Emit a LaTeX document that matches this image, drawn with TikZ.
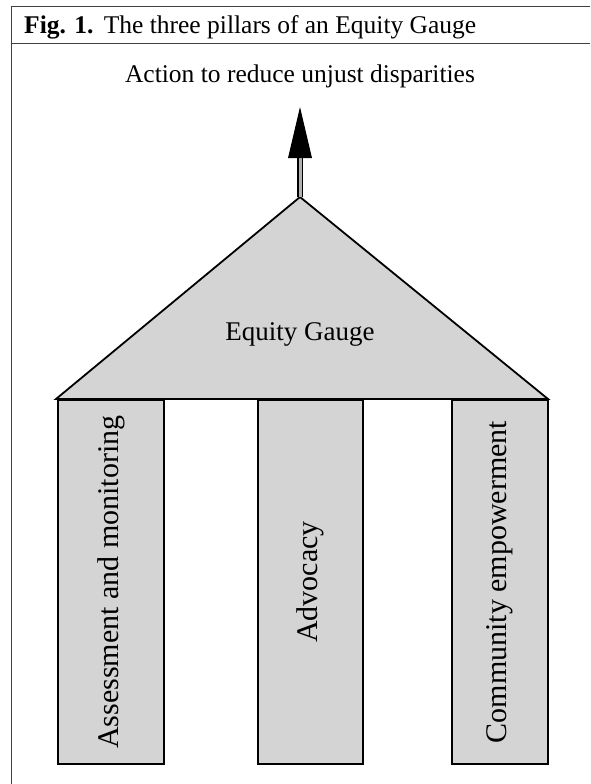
\documentclass[tikz,border=0pt]{standalone}
\usepackage{fontspec}
\setmainfont{Liberation Serif}
\definecolor{pillargray}{RGB}{212,212,212}
\begin{document}
\begin{tikzpicture}[x=1pt,y=-1pt,
  pillar/.style={draw=black, fill=pillargray, line width=2.2pt, inner sep=0pt, anchor=north west},
  roof/.style={draw=black, fill=pillargray, line width=1.8pt, line join=miter},
  frame/.style={draw=black!75, line width=1pt},
  txt/.style={font=\fontsize{25.5}{30}\selectfont, inner sep=0pt},
  ptxt/.style={font=\fontsize{30}{34}\selectfont, inner sep=0pt},
  rtxt/.style={font=\fontsize{27}{31}\selectfont, inner sep=0pt}]
\useasboundingbox (0,0) rectangle (590,784);
% frame
\coordinate (ftr) at (590,7);
\coordinate (ftl) at (11,7);
\coordinate (fbl) at (11,784);
\coordinate (fsl) at (11,44);
\coordinate (fsr) at (590,44);
\draw[frame] (ftr) -- (ftl) -- (fbl);
\draw[frame] (fsl) -- (fsr);
\node[txt, anchor=base west] (title) at (24,34) {\textbf{Fig. 1.}\hspace{0.4em}The three pillars of an Equity Gauge};
\node[txt, anchor=base] (action) at (300,82) {Action to reduce unjust disparities};
% pillars
\node[pillar, minimum width=106pt, minimum height=364pt] (p1) at (57,399) {};
\node[pillar, minimum width=105pt, minimum height=364pt] (p2) at (257,399) {};
\node[pillar, minimum width=96pt, minimum height=364pt] (p3) at (451,399) {};
\node[ptxt] (t1) at (p1.center) {\rotatebox{90}{Assessment and monitoring}};
\node[ptxt] (t2) at (p2.center) {\rotatebox{90}{Advocacy}};
\node[ptxt] (t3) at (p3.center) {\rotatebox{90}{Community empowerment}};
% roof
\coordinate (apex) at (300,197);
\coordinate (rl) at (56,399);
\coordinate (rr) at (548,399);
\draw[roof] (rl) -- (apex) -- (rr) -- cycle;
\node[rtxt] (eg) at (300,334) {Equity Gauge};
% arrow
\coordinate (hb) at (300,158);
\coordinate (tip) at (300,107);
\coordinate (hbl) at (288,158);
\coordinate (hbr) at (312,158);
\draw[line width=1.4pt, double=black!30, double distance=3pt] (apex) -- (hb);
\fill[black] (hbl) -- (tip) -- (hbr) -- cycle;
\end{tikzpicture}
\end{document}
